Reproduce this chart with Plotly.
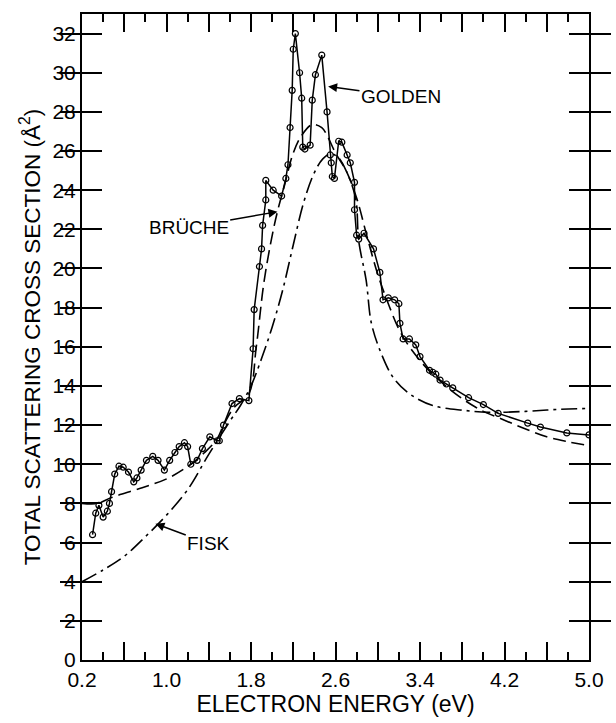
import plotly.graph_objects as go

# Golden (measured, solid line with circles)
golden_x = [0.30, 0.33, 0.36, 0.40, 0.44, 0.46, 0.48, 0.51, 0.55, 0.59, 0.64, 0.69, 0.72, 0.76,
            0.81, 0.87, 0.92, 0.98, 1.03, 1.08, 1.12, 1.17, 1.20, 1.23, 1.29, 1.34, 1.41, 1.48,
            1.50, 1.54, 1.62, 1.69, 1.78, 1.82, 1.83, 1.88, 1.90, 1.91, 1.94, 1.94, 2.01, 2.09,
            2.13, 2.15, 2.17, 2.19, 2.20, 2.22, 2.26, 2.28, 2.29, 2.31, 2.36, 2.38, 2.41, 2.47,
            2.52, 2.55, 2.56, 2.57, 2.59, 2.63, 2.66, 2.71, 2.74, 2.78, 2.78, 2.80, 2.82, 2.87,
            2.96, 3.02, 3.05, 3.10, 3.16, 3.20, 3.21, 3.24, 3.30, 3.36, 3.40, 3.49, 3.52, 3.55,
            3.59, 3.65, 3.71, 3.86, 4.00, 4.14, 4.42, 4.54, 4.79, 5.00]
golden_y = [6.4, 7.5, 7.9, 7.3, 7.6, 8.0, 8.6, 9.5, 9.9, 9.85, 9.6, 9.1, 9.3, 9.7,
            10.2, 10.4, 10.2, 9.7, 10.2, 10.6, 10.9, 11.1, 10.9, 10.0, 10.2, 10.8, 11.4, 11.2,
            11.2, 12.0, 13.1, 13.35, 13.25, 15.9, 17.9, 20.1, 21.0, 22.2, 23.5, 24.5, 24.0, 23.7,
            24.6, 25.3, 27.2, 29.1, 31.2, 32.0, 30.0, 28.7, 26.2, 26.1, 26.3, 28.6, 29.9, 30.9,
            28.0, 25.8, 25.4, 24.7, 24.6, 26.5, 26.45, 25.8, 25.4, 24.4, 23.0, 21.7, 21.5, 21.8,
            21.0, 19.8, 18.4, 18.5, 18.4, 18.2, 17.2, 16.4, 16.4, 16.1, 15.5, 14.8, 14.7, 14.6,
            14.3, 14.1, 13.9, 13.4, 13.05, 12.6, 12.1, 11.9, 11.6, 11.5]

# Bruche (dashed)
bruche_x = [0.20, 0.35, 0.48, 0.77, 1.02, 1.23, 1.36, 1.48, 1.54, 1.64, 1.78, 1.85, 1.92, 1.99,
            2.05, 2.12, 2.20, 2.28, 2.38, 2.47, 2.52, 2.60, 2.70, 2.80, 2.90, 3.00, 3.10, 3.20,
            3.30, 3.40, 3.50, 3.60, 3.70, 3.80, 3.90, 4.00, 4.20, 4.40, 4.60, 4.80, 5.00]
bruche_y = [8.0, 8.0, 8.3, 8.8, 9.3, 10.0, 10.6, 11.3, 12.0, 12.9, 13.6, 16.0, 19.2, 21.4,
            22.9, 24.3, 25.9, 26.8, 27.35, 27.2, 26.8, 25.9, 25.0, 23.6, 21.6, 19.7, 18.2, 16.9,
            16.0, 15.3, 14.7, 14.2, 13.75, 13.35, 13.0, 12.7, 12.25, 11.8, 11.4, 11.15, 10.95]

# Fisk (dash-dot)
fisk_x = [0.20, 0.40, 0.60, 0.80, 1.00, 1.20, 1.40, 1.60, 1.70, 1.80, 1.90, 2.00, 2.10, 2.20,
          2.30, 2.40, 2.48, 2.55, 2.62, 2.70, 2.79, 2.82, 2.89, 2.94, 3.03, 3.15, 3.30, 3.52,
          3.82, 4.05, 4.40, 4.70, 5.00]
fisk_y = [4.0, 4.6, 5.3, 6.3, 7.4, 8.7, 10.5, 12.2, 13.0, 14.0, 15.4, 17.0, 18.9, 21.2,
          23.4, 24.9, 25.6, 25.85, 25.7, 25.0, 23.6, 21.4, 19.4, 17.2, 15.7, 14.4, 13.6, 13.0,
          12.75, 12.65, 12.7, 12.8, 12.85]

x_label_vals = [0.2, 1.0, 1.8, 2.6, 3.4, 4.2, 5.0]
x_label_text = ["0.2", "1.0", "1.8", "2.6", "3.4", "4.2", "5.0"]
x_major_unlabeled = [0.6, 1.4, 2.2, 3.0, 3.8, 4.6]
x_minor_vals = [0.4, 0.8, 1.2, 1.6, 2.0, 2.4, 2.8, 3.2, 3.6, 4.0, 4.4, 4.8]
y_tickvals = list(range(0, 33, 2))

FONT = "Liberation Sans, Arial, sans-serif"

fig = go.Figure()
fig.add_trace(go.Scatter(x=fisk_x, y=fisk_y, mode="lines", line_shape="spline",
                         line=dict(color="black", width=1.6, dash="16px,5px,3px,5px"),
                         name="Fisk", showlegend=False))
fig.add_trace(go.Scatter(x=bruche_x, y=bruche_y, mode="lines", line_shape="spline",
                         line=dict(color="black", width=1.6, dash="13px,6px"),
                         name="Brüche", showlegend=False))
fig.add_trace(go.Scatter(x=golden_x, y=golden_y, mode="lines+markers",
                         line=dict(color="black", width=1.5),
                         marker=dict(symbol="circle-open", size=6, color="black",
                                     line=dict(width=1.2, color="black")),
                         name="Golden", showlegend=False))

ann_font = dict(family=FONT, size=19, color="black")
fig.add_annotation(x=2.53, y=29.3, ax=3.22, ay=28.8, axref="x", ayref="y",
                   text="GOLDEN", showarrow=True, arrowhead=2, arrowsize=1.2,
                   arrowwidth=1.5, arrowcolor="black", font=ann_font, standoff=0)
fig.add_annotation(x=2.05, y=22.9, ax=1.21, ay=22.1, axref="x", ayref="y",
                   text="BRÜCHE", showarrow=True, arrowhead=2, arrowsize=1.2,
                   arrowwidth=1.5, arrowcolor="black", font=ann_font, standoff=0)
fig.add_annotation(x=0.895, y=6.96, ax=1.40, ay=5.95, axref="x", ayref="y",
                   text="FISK", showarrow=True, arrowhead=2, arrowsize=1.2,
                   arrowwidth=1.5, arrowcolor="black", font=ann_font, standoff=0)

fig.update_layout(
    width=616, height=723, margin=dict(l=82, r=16, t=13, b=55),
    paper_bgcolor="white", plot_bgcolor="white", showlegend=False,
    xaxis=dict(range=[0.2, 5.0], tickvals=x_label_vals, ticktext=x_label_text,
               ticks="inside", ticklen=18, tickwidth=1.5, tickcolor="black",
               minor=dict(tickvals=x_minor_vals, ticks="inside", ticklen=8,
                          tickwidth=1.5, tickcolor="black"),
               showline=True, linewidth=2, linecolor="black", mirror="allticks",
               showgrid=False, zeroline=False,
               tickfont=dict(family=FONT, size=21, color="black"),
               title=dict(text="ELECTRON ENERGY (eV)",
                          font=dict(family=FONT, size=23, color="black"), standoff=4)),
    xaxis2=dict(range=[0.2, 5.0], overlaying="x", anchor="y", side="bottom",
                tickvals=x_major_unlabeled, showticklabels=False,
                ticks="inside", ticklen=18, tickwidth=1.5, tickcolor="black",
                showline=False, mirror="ticks", showgrid=False, zeroline=False),
    yaxis=dict(range=[0, 33], tickvals=y_tickvals,
               ticks="inside", ticklen=20, tickwidth=1.5, tickcolor="black",
               showline=True, linewidth=2, linecolor="black", mirror="allticks",
               showgrid=False, zeroline=False,
               tickfont=dict(family=FONT, size=21, color="black"),
               title=dict(text="TOTAL SCATTERING CROSS SECTION (Å<sup>2</sup>)",
                          font=dict(family=FONT, size=22.5, color="black"), standoff=6)),
)
# invisible anchor trace so the overlay axis is drawn
fig.add_trace(go.Scatter(x=[x_label_vals[0]], y=[y_tickvals[0]], xaxis="x2", mode="markers",
                         marker=dict(opacity=0), hoverinfo="skip", showlegend=False))

fig.write_html("out.html")
